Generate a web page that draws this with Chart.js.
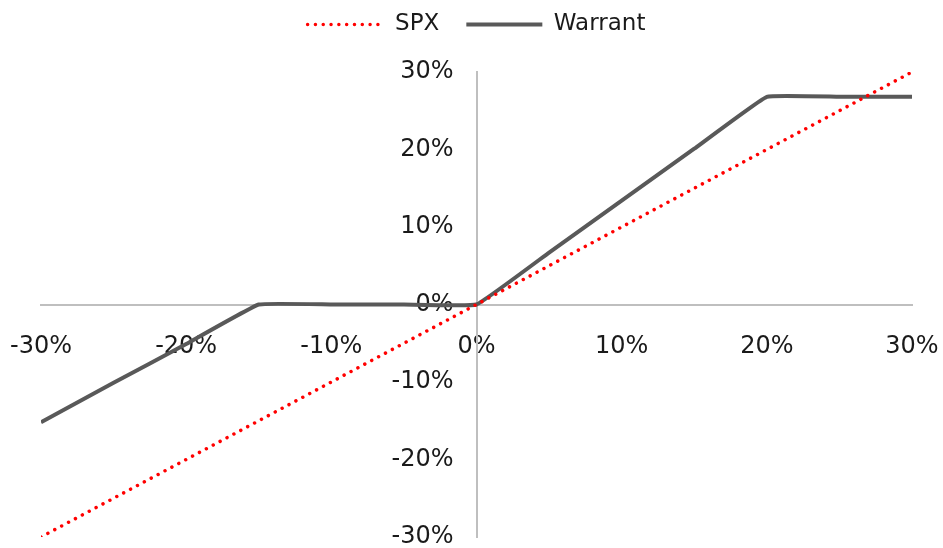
<!DOCTYPE html>
<html>
<head>
<meta charset="utf-8">
<script src="https://cdn.jsdelivr.net/npm/chart.js@4.4.0/dist/chart.umd.min.js"></script>
<style>
    html, body { margin: 0; padding: 0; background: #fff; }
    #wrap { width: 943px; height: 548px; }
</style>
</head>
<body>
<div id="wrap"><canvas id="chart"></canvas></div>
<script>
// SPX move (x) and payoff (y), in percent
const moves = [-30, -25, -20, -15, -10, -5, 0, 5, 10, 15, 20, 25, 30];
const spx = [-30, -25, -20, -15, -10, -5, 0, 5, 10, 15, 20, 25, 30];
const warrant = [-15.2, -10.1, -5.1, 0, 0, 0, 0, 6.7, 13.4, 20.1, 26.8, 26.8, 26.8];
const tickValues = [-30, -20, -10, 0, 10, 20, 30];

const toPoints = ys => moves.map((x, i) => ({ x: x, y: ys[i] }));
const fmt = v => v + '%';

// no space reserved by the crossing axes
function noAxisSpace(s) {
    if (s.isHorizontal()) s.height = 0; else s.width = 0;
    s.paddingLeft = s.paddingRight = s.paddingTop = s.paddingBottom = 0;
}

// push the plot down below the legend
const legendGap = {
    id: 'legendGap',
    afterInit(chart) {
        const legend = chart.legend;
        if (!legend) return;
        const fit = legend.fit;
        legend.fit = function () {
            fit.call(this);
            this.height = 86;
        };
    }
};

document.addEventListener('DOMContentLoaded', () => {
    Chart.defaults.font.family = '"DejaVu Sans", sans-serif';
    Chart.defaults.color = '#1a1a1a';

    const ctx = document.getElementById('chart').getContext('2d');
    new Chart(ctx, {
        type: 'scatter',
        data: {
            datasets: [{
                label: 'SPX',
                data: toPoints(spx),
                showLine: true,
                borderColor: '#ff0000',
                backgroundColor: '#ff0000',
                borderWidth: 3.5,
                borderDash: [0.01, 7.8],
                borderCapStyle: 'round',
                pointRadius: 0,
                tension: 0
            }, {
                label: 'Warrant',
                data: toPoints(warrant),
                showLine: true,
                borderColor: '#595959',
                backgroundColor: '#595959',
                borderWidth: 4,
                borderCapStyle: 'butt',
                pointRadius: 0,
                tension: 0.08
            }]
        },
        plugins: [legendGap],
        options: {
            responsive: true,
            maintainAspectRatio: false,
            animation: false,
            layout: { padding: { left: 41, right: 31, top: -14, bottom: 11 } },
            plugins: {
                tooltip: { enabled: false },
                legend: {
                    position: 'top',
                    labels: {
                        usePointStyle: true,
                        pointStyle: 'line',
                        pointStyleWidth: 76,
                        boxHeight: 23,
                        padding: 27,
                        font: { size: 23 },
                        color: '#1a1a1a',
                        generateLabels: chart => Chart.defaults.plugins.legend.labels.generateLabels(chart).map(item => {
                            const ds = chart.data.datasets[item.datasetIndex];
                            return Object.assign(item, {
                                strokeStyle: ds.borderColor,
                                fillStyle: ds.borderColor,
                                lineWidth: ds.borderWidth,
                                lineDash: ds.borderDash || [],
                                lineCap: ds.borderCapStyle
                            });
                        })
                    }
                }
            },
            scales: {
                x: {
                    type: 'linear',
                    position: { y: 0 },
                    min: -30,
                    max: 30,
                    afterFit: noAxisSpace,
                    afterBuildTicks: s => { s.ticks = tickValues.map(v => ({ value: v })); },
                    grid: { display: false, drawTicks: false },
                    border: { display: true, color: '#bfbfbf', width: 2 },
                    ticks: { callback: fmt, padding: 28, font: { size: 24 }, maxRotation: 0, autoSkip: false }
                },
                y: {
                    type: 'linear',
                    position: { x: 0 },
                    min: -30,
                    max: 30,
                    afterFit: noAxisSpace,
                    afterBuildTicks: s => { s.ticks = tickValues.map(v => ({ value: v })); },
                    grid: { display: false, drawTicks: false },
                    border: { display: true, color: '#bfbfbf', width: 2 },
                    ticks: { callback: v => fmt(v) + '\u00a0\u00a0\u00a0', padding: 0, font: { size: 24 }, autoSkip: false }
                }
            }
        }
    });
});
</script>
</body>
</html>
